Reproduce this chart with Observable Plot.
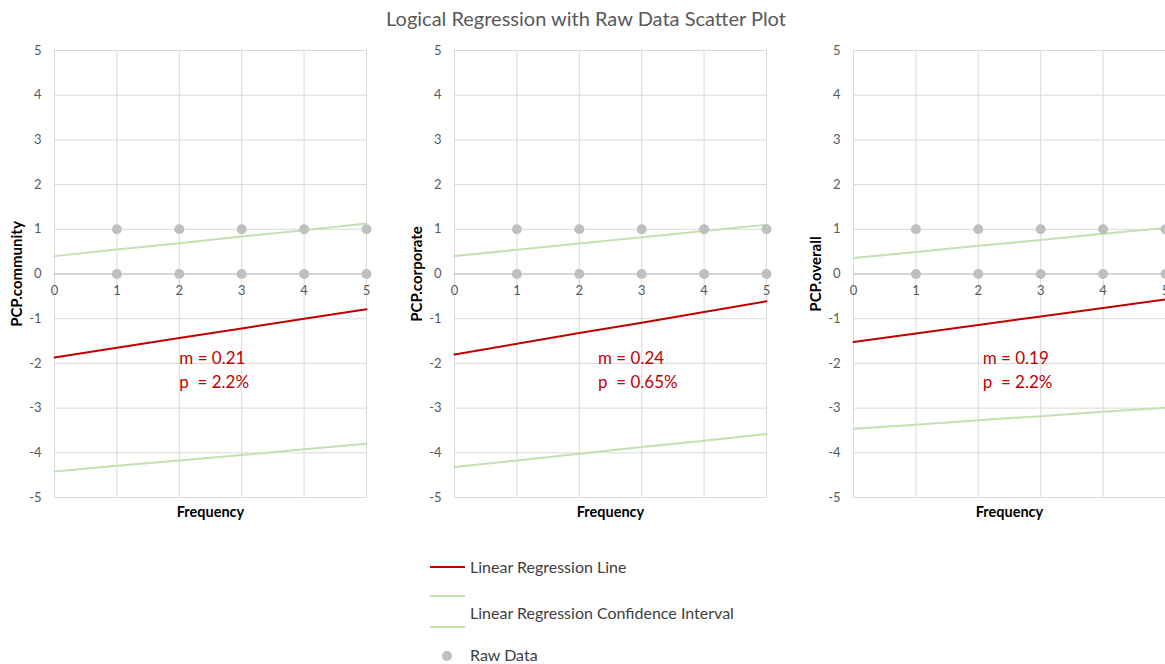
<!DOCTYPE html>
<html>
<head>
<meta charset="utf-8">
<script src="https://cdn.jsdelivr.net/npm/d3@7"></script>
<script src="https://cdn.jsdelivr.net/npm/@observablehq/plot@0.6"></script>
<style>
  body { margin: 0; background: #fff; font-family: Lato, "Open Sans", sans-serif; width: 1165px; height: 664px; position: relative; overflow: hidden; }
  #title { position: absolute; left: 0; top: 6px; width: 1172px; text-align: center; font-size: 20px; color: #595959; }
  .panel { position: absolute; top: 40px; }
  .panel svg { overflow: visible; }
  .leg { position: absolute; font-size: 16px; color: #404040; white-space: nowrap; }
  .sw { position: absolute; }
</style>
</head>
<body>
<div id="title">Logical Regression with Raw Data Scatter Plot</div>
<div id="p0" class="panel" style="left:0px"></div>
<div id="p1" class="panel" style="left:400px"></div>
<div id="p2" class="panel" style="left:800px"></div>

<svg class="sw" style="left:428px;top:562px" width="40" height="10"><line x1="2" x2="37" y1="5" y2="5" stroke="#c00000" stroke-width="2"/></svg>
<div class="leg" style="left:470px;top:557px">Linear Regression Line</div>
<svg class="sw" style="left:428px;top:591px" width="40" height="10"><line x1="2" x2="37" y1="5" y2="5" stroke="#c5e0b3" stroke-width="2"/></svg>
<div class="leg" style="left:470px;top:603px">Linear Regression Confidence Interval</div>
<svg class="sw" style="left:428px;top:622px" width="40" height="10"><line x1="2" x2="37" y1="5" y2="5" stroke="#c5e0b3" stroke-width="2"/></svg>
<svg class="sw" style="left:437px;top:646px" width="20" height="20"><circle cx="10" cy="10" r="5" fill="#bfbfbf"/></svg>
<div class="leg" style="left:470px;top:645px">Raw Data</div>

<script>
// ---- data ----
const xValues = [0, 1, 2, 3, 4, 5];
const panelLabels = ["PCP.community", "PCP.corporate", "PCP.overall"];

const regCommunity = [-1.87, -1.65, -1.43, -1.22, -1.00, -0.79];
const ciUpperCommunity = [0.40, 0.55, 0.69, 0.84, 0.98, 1.13];
const ciLowerCommunity = [-4.42, -4.29, -4.17, -4.05, -3.92, -3.80];

const regCorporate = [-1.80, -1.56, -1.32, -1.09, -0.85, -0.61];
const ciUpperCorporate = [0.40, 0.54, 0.68, 0.82, 0.96, 1.10];
const ciLowerCorporate = [-4.32, -4.17, -4.02, -3.87, -3.73, -3.58];

const regOverall = [-1.52, -1.33, -1.14, -0.95, -0.76, -0.57];
const ciUpperOverall = [0.36, 0.49, 0.63, 0.76, 0.90, 1.03];
const ciLowerOverall = [-3.46, -3.37, -3.27, -3.18, -3.08, -2.99];

const rawX = [1, 2, 3, 4, 5, 1, 2, 3, 4, 5];
const rawY = [0, 0, 0, 0, 0, 1, 1, 1, 1, 1];

const slopes = ["m = 0.21", "m = 0.24", "m = 0.19"];
const pValues = ["p\u00a0 = 2.2%", "p\u00a0 = 0.65%", "p\u00a0 = 2.2%"];
const annX = [2.0, 2.3, 2.07];

const yTicks = [-5, -4, -3, -2, -1, 0, 1, 2, 3, 4, 5];
const xTicks = [0, 1, 2, 3, 4, 5];

// ---- build ----
const series = [
  [regCommunity, ciUpperCommunity, ciLowerCommunity],
  [regCorporate, ciUpperCorporate, ciLowerCorporate],
  [regOverall, ciUpperOverall, ciLowerOverall]
];
const raw = rawX.map((x, i) => ({x, y: rawY[i]}));
const toPts = arr => xValues.map((x, i) => ({x, y: arr[i]}));

series.forEach(([reg, up, lo], k) => {
  const last = k === 2;
  const chart = Plot.plot({
    width: last ? 365 : 400,
    height: 500,
    marginLeft: last ? 53 : 54,
    marginRight: last ? 0 : 34,
    marginTop: 10,
    marginBottom: 43,
    style: {fontFamily: "Lato, 'Open Sans', sans-serif", fontSize: "13px", color: "#595959", overflow: "visible"},
    x: {domain: [0, 5], axis: null},
    y: {domain: [-5, 5], axis: null},
    marks: [
      Plot.gridX(xTicks, {stroke: "#d9d9d9", strokeOpacity: 1}),
      Plot.gridY(yTicks, {stroke: "#d9d9d9", strokeOpacity: 1}),
      Plot.ruleY([0], {stroke: "#bfbfbf"}),
      Plot.axisY(yTicks, {tickSize: 0, tickPadding: 13, fill: "#595959", fontSize: 13, label: null, tickFormat: d => String(d)}),
      Plot.text(xTicks, {x: d => d, y: 0, dy: 17, text: d => String(d), fill: "#595959", fontSize: 13}),
      Plot.line(toPts(reg), {x: "x", y: "y", stroke: "#c00000", strokeWidth: 2}),
      Plot.line(toPts(up), {x: "x", y: "y", stroke: "#c5e0b3", strokeWidth: 2}),
      Plot.line(toPts(lo), {x: "x", y: "y", stroke: "#c5e0b3", strokeWidth: 2}),
      Plot.dot(raw, {x: "x", y: "y", r: 5, fill: "#bfbfbf", stroke: "none"}),
      Plot.text([slopes[k]], {x: annX[k], y: -1.89, text: d => d, textAnchor: "start", fill: "#c00000", fontSize: 17}),
      Plot.text([pValues[k]], {x: annX[k], y: -2.43, text: d => d, textAnchor: "start", fill: "#c00000", fontSize: 17}),
      Plot.text([panelLabels[k]], {frameAnchor: "left", textAnchor: "middle", rotate: -90, dx: -37, text: d => d, fontWeight: "bold", fill: "#000", fontSize: 15}),
      Plot.text(["Frequency"], {frameAnchor: "bottom", dy: 19, text: d => d, fontWeight: "bold", fill: "#000", fontSize: 14.5})
    ]
  });
  document.getElementById("p" + k).appendChild(chart);
});
</script>
</body>
</html>
